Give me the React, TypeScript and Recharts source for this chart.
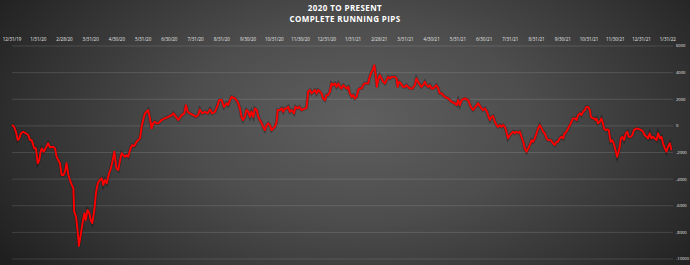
import { CartesianGrid, Line, LineChart, XAxis, YAxis } from 'recharts'

// month-end labels along the top axis
const tickLabels = [
  '12/31/19', '1/31/20', '2/28/20', '3/31/20', '4/30/20', '5/31/20', '6/30/20', '7/31/20',
  '8/31/20', '9/30/20', '10/31/20', '11/30/20', '12/31/20', '1/31/21', '2/28/21', '3/31/21',
  '4/30/21', '5/31/21', '6/30/21', '7/31/21', '8/31/21', '9/30/21', '10/31/21', '11/30/21',
  '12/31/21', '1/31/22',
]

const pipTicks = [6000, 4000, 2000, 0, -2000, -4000, -6000, -8000, -10000]

// months elapsed since 12/31/19 for each reading
const elapsed = [
  0, 0.08, 0.15, 0.22, 0.28, 0.34, 0.43, 0.52, 0.62, 0.69, 0.75, 0.85, 0.91, 0.98, 1.04, 1.08,
  1.13, 1.21, 1.31, 1.38, 1.45, 1.57, 1.64, 1.7, 1.76, 1.83, 1.89, 1.96, 2.02, 2.08, 2.15, 2.21,
  2.28, 2.34, 2.37, 2.44, 2.5, 2.55, 2.63, 2.69, 2.76, 2.81, 2.88, 2.95, 3.0, 3.06, 3.14, 3.2,
  3.27, 3.35, 3.42, 3.48, 3.54, 3.61, 3.7, 3.77, 3.84, 3.9, 3.98, 4.05, 4.12, 4.18, 4.24, 4.31,
  4.37, 4.43, 4.52, 4.58, 4.66, 4.75, 4.81, 4.88, 4.94, 5.0, 5.07, 5.13, 5.19, 5.26, 5.32, 5.38,
  5.45, 5.51, 5.58, 5.7, 5.83, 5.96, 6.09, 6.15, 6.25, 6.34, 6.47, 6.57, 6.63, 6.7, 6.78, 6.91,
  7.01, 7.1, 7.16, 7.25, 7.36, 7.46, 7.55, 7.63, 7.74, 7.84, 7.9, 7.99, 8.08, 8.18, 8.24, 8.31,
  8.37, 8.5, 8.6, 8.69, 8.75, 8.81, 8.88, 8.94, 9.01, 9.07, 9.13, 9.2, 9.26, 9.33, 9.39, 9.45,
  9.52, 9.58, 9.64, 9.71, 9.77, 9.83, 9.9, 9.96, 10.02, 10.09, 10.13, 10.21, 10.28, 10.34, 10.4, 10.47,
  10.53, 10.59, 10.66, 10.75, 10.81, 10.89, 10.95, 11.04, 11.17, 11.23, 11.29, 11.36, 11.42, 11.48, 11.55, 11.61,
  11.67, 11.74, 11.8, 11.86, 11.93, 11.99, 12.05, 12.12, 12.18, 12.24, 12.31, 12.37, 12.44, 12.5, 12.56, 12.63,
  12.69, 12.76, 12.82, 12.88, 12.95, 13.01, 13.07, 13.14, 13.2, 13.26, 13.33, 13.39, 13.45, 13.58, 13.62, 13.68,
  13.75, 13.81, 13.86, 13.91, 13.96, 14.02, 14.09, 14.15, 14.22, 14.28, 14.34, 14.41, 14.47, 14.6, 14.66, 14.7,
  14.76, 14.82, 14.91, 14.98, 15.04, 15.1, 15.17, 15.26, 15.36, 15.42, 15.48, 15.55, 15.61, 15.67, 15.74, 15.8,
  15.87, 15.93, 15.99, 16.06, 16.12, 16.18, 16.25, 16.31, 16.38, 16.44, 16.5, 16.63, 16.76, 16.88, 16.95, 17.01,
  17.07, 17.14, 17.26, 17.39, 17.49, 17.58, 17.67, 17.77, 17.9, 17.96, 18.03, 18.11, 18.15, 18.22, 18.28, 18.34,
  18.41, 18.47, 18.53, 18.6, 18.66, 18.72, 18.79, 18.85, 18.91, 18.98, 19.04, 19.1, 19.17, 19.23, 19.3, 19.36,
  19.42, 19.49, 19.55, 19.62, 19.68, 19.74, 19.81, 19.87, 19.93, 20.0, 20.06, 20.12, 20.19, 20.25, 20.31, 20.38,
  20.44, 20.54, 20.63, 20.69, 20.76, 20.82, 20.88, 20.95, 21.01, 21.07, 21.14, 21.2, 21.27, 21.33, 21.39, 21.46,
  21.52, 21.58, 21.65, 21.71, 21.77, 21.84, 21.9, 21.96, 22.03, 22.07, 22.13, 22.19, 22.24, 22.28, 22.34, 22.41,
  22.47, 22.53, 22.57, 22.64, 22.7, 22.75, 22.82, 22.88, 22.94, 23.01, 23.07, 23.11, 23.17, 23.21, 23.27, 23.33,
  23.4, 23.46, 23.51, 23.59, 23.65, 23.71, 23.8, 23.93, 24.0, 24.06, 24.12, 24.19, 24.25, 24.31, 24.38, 24.44,
  24.5, 24.57, 24.63, 24.7, 24.76, 24.82, 24.89, 24.95, 25.01, 25.08, 25.14,
]

// running pip total at each reading
const pips = [
  60, -70, -440, -1070, -940, -560, -440, -560, -690, -1070, -1070, -1690, -1670, -2810, -2570, -2060,
  -1690, -1940, -1570, -1310, -1610, -1570, -1690, -2320, -2570, -2810, -3690, -3690, -3440, -2810, -3690, -4070,
  -4440, -4690, -6440, -6820, -7820, -9020, -8060, -7310, -6560, -7070, -6320, -6560, -7070, -7310, -6320, -5060,
  -4310, -4070, -3940, -4440, -4070, -4310, -3560, -3190, -2570, -1940, -3170, -3320, -2570, -2060, -2190, -2320,
  -2190, -2320, -1690, -1440, -1520, -1190, -1070, -940, -70, 440, 940, 1060, 1190, 560, -190, 190,
  310, 190, 190, 440, 560, 680, 810, 940, 680, 440, 810, 940, 1560, 1060, 940, 810,
  680, 810, 1240, 940, 1060, 940, 1240, 940, 1060, 1560, 1940, 1940, 1430, 1690, 1560, 1940,
  2180, 2060, 1810, 1310, 680, 440, 680, 1190, 1060, 680, 1060, 680, 1310, 1190, 680, 440,
  190, -70, -320, 60, 190, 60, -320, -190, -70, 310, 1190, 1190, 1310, 1060, 1310, 1310,
  1430, 1060, 1190, 940, 1430, 1310, 1430, 1190, 1310, 1360, 2560, 2690, 2440, 2560, 2690, 2440,
  2690, 2560, 2440, 2060, 1940, 2310, 2310, 2560, 3190, 3060, 3190, 2930, 3190, 2930, 2810, 3060,
  2930, 2810, 2930, 2440, 2180, 2310, 2060, 2180, 2690, 2810, 2810, 3060, 3190, 3190, 3560, 3940,
  4190, 4560, 3940, 2930, 3440, 3810, 3560, 3310, 3190, 3440, 3680, 3560, 3680, 3680, 3560, 2930,
  3310, 3190, 2930, 2930, 3060, 2930, 2810, 2810, 3060, 3560, 3310, 3060, 2930, 3060, 3310, 3060,
  2930, 3060, 2810, 2810, 2930, 3060, 2810, 2440, 2440, 2310, 2180, 2060, 1810, 1690, 1560, 1940,
  1560, 1940, 2060, 1940, 1430, 1190, 1430, 1690, 1310, 1190, 1310, 1060, 810, 440, 680, 740,
  310, 60, -70, 60, -70, 60, -70, -440, -940, -690, -560, -440, -560, -440, -520, -440,
  -820, -1190, -1690, -1940, -1690, -1440, -1070, -1190, -940, -560, -190, 60, -190, -440, -560, -940,
  -1070, -1070, -1310, -1440, -1190, -1190, -940, -820, -940, -560, -440, -190, 60, 310, 560, 560,
  440, 810, 940, 810, 1060, 1190, 1430, 1430, 1190, 680, 560, 560, 440, 560, 190, 310,
  560, 190, -190, -320, -260, -320, -1190, -1070, -1310, -1820, -2320, -2060, -1570, -940, -820, -1070,
  -560, -440, -820, -820, -690, -320, -190, -260, -320, -440, -690, -820, -940, -560, -940, -820,
  -940, -1070, -560, -940, -820, -1310, -1690, -1940, -1570, -1310, -1820,
]

const data = elapsed.map((m, i) => ({ m, pips: pips[i] }))
const monthTicks = tickLabels.map((_, i) => i)

const font = "'Open Sans', 'Liberation Sans', sans-serif"

export default function App() {
  return (
    <div
      style={{
        position: 'relative',
        width: 690,
        height: 265,
        overflow: 'hidden',
        background:
          'radial-gradient(ellipse 62% 95% at 52% 45%, #5f5f5f 0%, #4d4d4d 40%, #333333 75%, #1f1f1f 100%)',
        fontFamily: font,
      }}
    >
      <style>{'body{margin:0}'}</style>
      <div
        style={{
          position: 'absolute',
          top: 2,
          left: 0,
          width: 690,
          textAlign: 'center',
          color: '#ffffff',
          fontWeight: 700,
          fontSize: 8,
          lineHeight: '11px',
          letterSpacing: 0.4,
        }}
      >
        <div>2020 TO PRESENT</div>
        <div>COMPLETE RUNNING PIPS</div>
      </div>
      <LineChart
        width={690}
        height={265}
        data={data}
        margin={{ top: 0, right: 0, bottom: 6, left: 12 }}
        style={{ position: 'absolute', top: 0, left: 0 }}
      >
        <CartesianGrid vertical={false} stroke={'rgba(255,255,255,0.13)'} />
        <XAxis
          dataKey={'m'}
          type={'number'}
          orientation={'top'}
          domain={[0, 25.2]}
          ticks={monthTicks}
          tickFormatter={(v: number) => tickLabels[v]}
          interval={0}
          height={46}
          axisLine={false}
          tickLine={false}
          tickSize={0}
          tickMargin={5}
          tick={{ fontSize: 4.5, fill: '#e6e6e6', fontFamily: font }}
        />
        <YAxis
          orientation={'right'}
          type={'number'}
          domain={[-10000, 6000]}
          ticks={pipTicks}
          interval={0}
          width={17}
          axisLine={false}
          tickLine={false}
          tickSize={0}
          tickMargin={3}
          tick={{ fontSize: 4.1, fill: '#e6e6e6', fontFamily: font, textAnchor: 'start' }}
        />
        <Line
          type={'linear'}
          dataKey={'pips'}
          stroke={'rgba(0,0,0,0.3)'}
          strokeWidth={3.2}
          dot={false}
          activeDot={false}
          isAnimationActive={false}
        />
        <Line
          type={'linear'}
          dataKey={'pips'}
          stroke={'#ff0000'}
          strokeWidth={1.9}
          strokeLinejoin={'round'}
          dot={false}
          activeDot={false}
          isAnimationActive={false}
        />
      </LineChart>
    </div>
  )
}
